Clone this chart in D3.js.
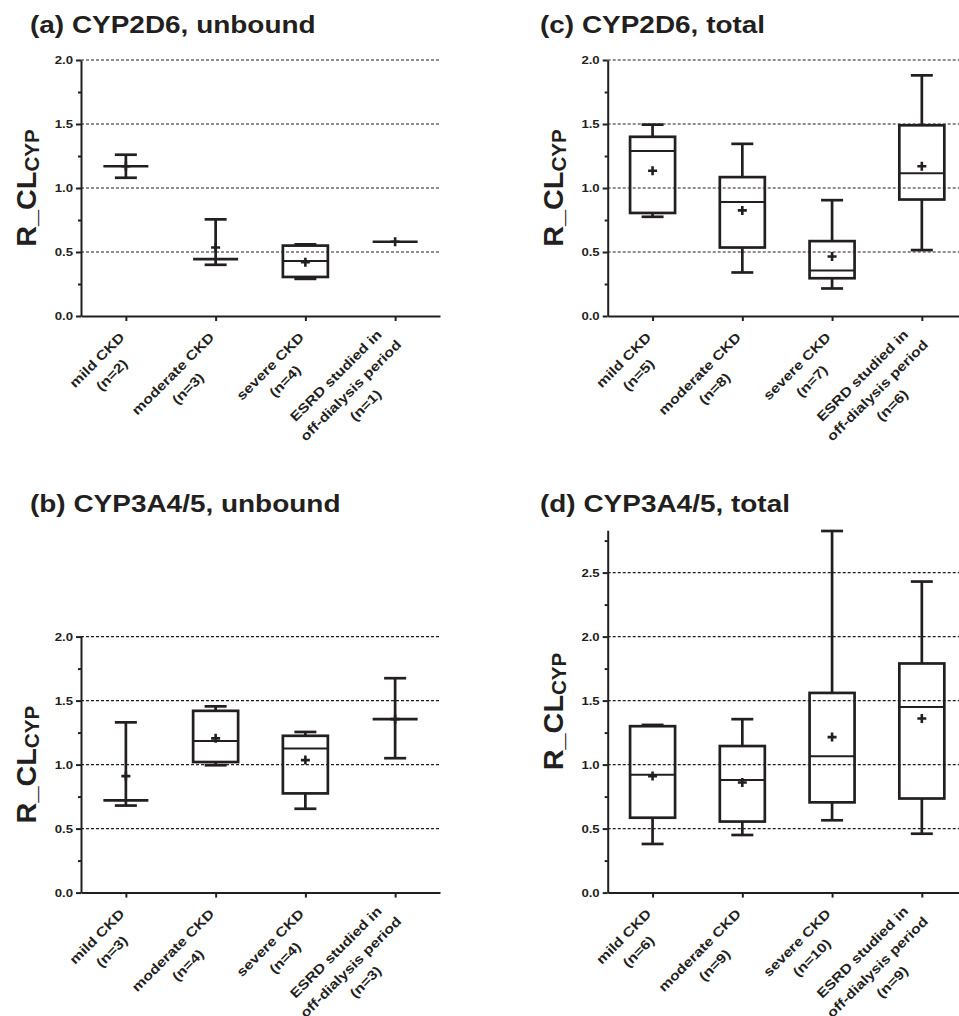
<!DOCTYPE html>
<html>
<head>
<meta charset="utf-8">
<script src="https://cdn.jsdelivr.net/npm/d3@7"></script>
<style>
  body { margin: 0; background: #fff; }
  svg { display: block; }
</style>
</head>
<body>
<div id="chart"></div>
<script>
// categories (x axis), one line break where the original label wraps
const categories = ["mild CKD", "moderate CKD", "severe CKD", "ESRD studied in\noff-dialysis period"];

// number of subjects per group
const nA = [2, 3, 4, 1];
const nB = [3, 4, 4, 3];
const nC = [5, 8, 7, 6];
const nD = [6, 9, 10, 9];

// box stats per group: [min, q1, median, q3, max, mean]
const statsA = [
    [1.08, 1.17, 1.17, 1.17, 1.26, 1.17],
    [0.40, 0.445, 0.445, 0.445, 0.755, 0.535],
    [0.29, 0.305, 0.43, 0.55, 0.56, 0.42],
    [0.58, 0.58, 0.58, 0.58, 0.58, 0.58]
];
const statsB = [
    [0.68, 0.72, 0.72, 0.72, 1.33, 0.91],
    [0.995, 1.02, 1.185, 1.42, 1.455, 1.205],
    [0.655, 0.775, 1.125, 1.225, 1.255, 1.035],
    [1.05, 1.355, 1.355, 1.355, 1.675, 1.355]
];
const statsC = [
    [0.775, 0.805, 1.29, 1.40, 1.495, 1.135],
    [0.34, 0.535, 0.89, 1.085, 1.345, 0.825],
    [0.215, 0.295, 0.355, 0.585, 0.905, 0.465],
    [0.515, 0.91, 1.115, 1.49, 1.88, 1.17]
];
const statsD = [
    [0.38, 0.585, 0.92, 1.30, 1.31, 0.91],
    [0.45, 0.555, 0.88, 1.145, 1.355, 0.86],
    [0.565, 0.705, 1.065, 1.56, 2.825, 1.215],
    [0.46, 0.735, 1.45, 1.79, 2.43, 1.36]
];

const titles = ["(a) CYP2D6, unbound", "(b) CYP3A4/5, unbound", "(c) CYP2D6, total", "(d) CYP3A4/5, total"];
const yMaxes = [2, 2, 2, 2.83];

// panel layout
const panels = [
    { title: titles[0], n: nA, stats: statsA, yMax: yMaxes[0], left: 81, bottom: 316, tx: 30, ty: 33 },
    { title: titles[1], n: nB, stats: statsB, yMax: yMaxes[1], left: 81, bottom: 892.6, tx: 30, ty: 512 },
    { title: titles[2], n: nC, stats: statsC, yMax: yMaxes[2], left: 607.7, bottom: 316, tx: 540, ty: 33 },
    { title: titles[3], n: nD, stats: statsD, yMax: yMaxes[3], left: 607.7, bottom: 892.6, tx: 540, ty: 512 }
];

const width = 959, height = 1016;
const FONT = "'Liberation Sans', Arial, Helvetica, sans-serif";
const INK = "#231f20";
const SX = 1.2;          // the original lettering is wider than Arial
const plotW = 359;
const pxPerUnit = 128;
const boxW = 45, capW = 22;
const labelSize = 13.2, labelLead = 21;

const svg = d3.select("#chart")
    .append("svg")
    .attr("width", width)
    .attr("height", height)
    .attr("font-family", FONT);

panels.forEach(p => {
    const g = svg.append("g");

    const x = d3.scalePoint()
        .domain(d3.range(categories.length))
        .range([p.left, p.left + plotW])
        .padding(0.5);

    const y = d3.scaleLinear()
        .domain([0, p.yMax])
        .range([p.bottom, p.bottom - p.yMax * pxPerUnit]);

    const majors = d3.range(0, p.yMax + 1e-9, 0.5);
    const minors = d3.range(0.25, p.yMax + 1e-9, 0.5);

    // dashed grid lines
    g.append("g")
        .selectAll("line")
        .data(majors.filter(v => v > 0))
        .join("line")
        .attr("x1", p.left)
        .attr("x2", p.left + plotW)
        .attr("y1", d => y(d))
        .attr("y2", d => y(d))
        .attr("stroke", INK)
        .attr("stroke-width", 1.2)
        .attr("stroke-dasharray", "3,2");

    // y axis
    const yAxisG = g.append("g")
        .attr("transform", `translate(${p.left},0)`)
        .call(d3.axisLeft(y).tickValues(majors).tickFormat(d3.format(".1f")).tickSize(5).tickSizeOuter(0));
    g.append("g")
        .attr("transform", `translate(${p.left},0)`)
        .call(d3.axisLeft(y).tickValues(minors).tickFormat("").tickSize(3))
        .call(a => a.select(".domain").remove());
    g.selectAll(".tick line").attr("stroke", INK).attr("stroke-width", 2);
    yAxisG.select(".domain").attr("stroke", INK).attr("stroke-width", 2);
    yAxisG.selectAll("text")
        .attr("x", -8 / SX)
        .attr("dy", "0.36em")
        .attr("transform", `scale(${SX},1)`)
        .attr("font-family", FONT)
        .attr("font-size", 11)
        .attr("font-weight", "bold")
        .attr("fill", INK);

    // x axis
    const xAxisG = g.append("g")
        .attr("transform", `translate(0,${p.bottom})`)
        .call(d3.axisBottom(x).tickFormat("").tickSize(5).tickSizeOuter(0));
    xAxisG.select(".domain").attr("stroke", INK).attr("stroke-width", 2);
    xAxisG.selectAll(".tick line").attr("stroke", INK).attr("stroke-width", 2);

    // boxes
    const boxes = g.append("g")
        .attr("fill", "none")
        .attr("stroke", INK)
        .attr("stroke-width", 2.7);

    p.stats.forEach((s, i) => {
        const [mn, q1, md, q3, mx, mean] = s;
        const cx = x(i);
        if (q1 > mn) boxes.append("line").attr("x1", cx).attr("x2", cx).attr("y1", y(mn)).attr("y2", y(q1));
        if (mx > q3) boxes.append("line").attr("x1", cx).attr("x2", cx).attr("y1", y(q3)).attr("y2", y(mx));
        if (mx > mn) {
            [mn, mx].forEach(v => {
                boxes.append("line")
                    .attr("x1", cx - capW / 2).attr("x2", cx + capW / 2)
                    .attr("y1", y(v)).attr("y2", y(v));
            });
        }
        if (q3 > q1) {
            boxes.append("rect")
                .attr("x", cx - boxW / 2)
                .attr("y", y(q3))
                .attr("width", boxW)
                .attr("height", y(q1) - y(q3));
        }
        boxes.append("line")
            .attr("x1", cx - boxW / 2).attr("x2", cx + boxW / 2)
            .attr("y1", y(md)).attr("y2", y(md))
            .attr("stroke-width", q3 > q1 ? 2 : 2.7);
        // mean marker "+"
        boxes.append("path")
            .attr("d", `M${cx - 4.5},${y(mean)}H${cx + 4.5}M${cx},${y(mean) - 4.5}V${y(mean) + 4.5}`)
            .attr("stroke-width", 2.6);
    });

    // category labels, rotated 45 degrees, lines centred on each other,
    // right edge of the block just left of the tick
    categories.forEach((c, i) => {
        const lines = c.split("\n").concat(`(n=${p.n[i]})`);
        const lg = g.append("g")
            .attr("transform", `translate(${x(i)},${p.bottom}) rotate(-45)`);
        const texts = lines.map(t => lg.append("text")
            .attr("text-anchor", "middle")
            .attr("font-size", labelSize)
            .attr("font-weight", "bold")
            .attr("fill", INK)
            .text(t));
        const w = d3.max(texts, t => t.node().getComputedTextLength()) * SX;
        const first = 21 - (lines.length - 1) / 2 * labelLead + 4.75;
        texts.forEach((t, j) => t.attr("transform",
            `translate(${-16 - w / 2},${first + j * labelLead}) scale(${SX},1)`));
    });

    // y axis label
    const ly = g.append("text")
        .attr("transform", `translate(${p.left - 45},${(y(0) + y(p.yMax)) / 2}) rotate(-90) scale(1.03,1)`)
        .attr("text-anchor", "middle")
        .attr("font-size", 28)
        .attr("font-weight", "bold")
        .attr("fill", INK);
    ly.append("tspan").text("R_CL");
    ly.append("tspan").attr("font-size", 20).attr("dy", 3).text("CYP");

    // panel title
    g.append("text")
        .attr("transform", `translate(${p.tx},${p.ty}) scale(${SX},1)`)
        .attr("font-size", 23.3)
        .attr("font-weight", "bold")
        .attr("fill", INK)
        .text(p.title);
});
</script>
</body>
</html>
